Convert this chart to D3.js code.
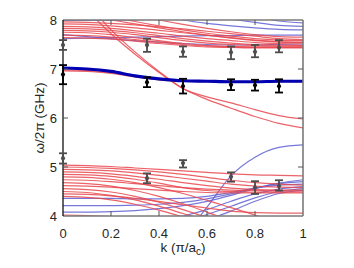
<!DOCTYPE html>
<html><head><meta charset="utf-8">
<script src="https://cdn.jsdelivr.net/npm/d3@7"></script>
<style>body{margin:0;background:#fff}svg{display:block}text{font-family:"Liberation Sans",Arial,sans-serif}</style>
</head><body><svg id="c" width="354" height="268"></svg>
<script>
const kGrid = [0,0.1,0.2,0.3,0.4,0.5,0.6,0.7,0.8,0.9,1];
const xTicks = [0,0.2,0.4,0.6,0.8,1];
const xTickLabels = ["0","0.2","0.4","0.6","0.8","1"];
const yTicks = [4,5,6,7,8];
const yTickLabels = ["4","5","6","7","8"];

// red bands, upper group (GHz at each kGrid point)
const redUpper = [
 [7.96,7.95,7.93,7.9,7.86,7.82,7.77,7.72,7.67,7.62,7.6],
 [7.92,7.91,7.88,7.84,7.79,7.74,7.69,7.64,7.59,7.56,7.55],
 [7.87,7.86,7.83,7.78,7.73,7.67,7.62,7.58,7.54,7.52,7.51],
 [7.83,7.82,7.79,7.74,7.68,7.62,7.57,7.53,7.5,7.49,7.48],
 [7.79,7.78,7.75,7.7,7.64,7.58,7.53,7.5,7.48,7.47,7.47],
 [7.75,7.74,7.7,7.64,7.58,7.52,7.48,7.46,7.45,7.45,7.45],
 [7.69,7.68,7.65,7.6,7.55,7.5,7.47,7.45,7.44,7.44,7.44],
 [7.64,7.63,7.61,7.57,7.52,7.48,7.45,7.44,7.43,7.43,7.43],
 [8.12,8.07,8.0,7.92,7.84,7.76,7.69,7.63,7.58,7.55,7.54],
 [8.25,8.16,8.07,7.97,7.88,7.8,7.73,7.67,7.62,7.59,7.58],
 [8.4,8.3,8.2,8.1,8.0,7.91,7.83,7.76,7.7,7.66,7.65]
];
// red bands crossing down from the top
const redSteep = [
 [8.7,8.2,7.72,7.3,6.93,6.6,6.43,6.31,6.17,6.05,5.98],
 [8.9,8.35,7.8,7.35,6.95,6.6,6.38,6.2,6.03,5.89,5.8]
];
// red bands following the thick blue band
const redMid = [
 [6.98,6.97,6.93,6.85,6.79,6.76,6.75,6.74,6.74,6.75,6.75],
 [6.96,6.95,6.91,6.84,6.78,6.75,6.74,6.73,6.73,6.74,6.74]
];
// red bands, lower group
const redLower = [
 [5.04,5.03,5.01,4.98,4.95,4.92,4.89,4.86,4.84,4.83,4.82],
 [5.0,4.99,4.97,4.94,4.9,4.85,4.79,4.73,4.68,4.65,4.63],
 [4.95,4.94,4.92,4.88,4.83,4.77,4.71,4.65,4.61,4.59,4.58],
 [4.9,4.89,4.86,4.81,4.75,4.68,4.62,4.57,4.54,4.53,4.53],
 [4.85,4.84,4.81,4.75,4.67,4.58,4.52,4.5,4.49,4.49,4.49],
 [4.8,4.79,4.75,4.68,4.58,4.46,4.32,4.17,4.02,3.88,3.8],
 [4.74,4.73,4.7,4.66,4.62,4.58,4.55,4.53,4.52,4.51,4.51],
 [4.68,4.66,4.61,4.52,4.4,4.25,4.08,3.9,3.75,3.65,3.6],
 [4.62,4.61,4.59,4.56,4.53,4.5,4.48,4.47,4.47,4.47,4.47],
 [4.56,4.54,4.49,4.4,4.28,4.13,3.97,3.8,3.7,3.6,3.55],
 [4.5,4.48,4.42,4.33,4.2,4.05,3.9,3.75,3.6,3.5,3.45],
 [4.45,4.44,4.41,4.36,4.3,4.23,4.16,4.1,4.07,4.06,4.06],
 [4.4,4.38,4.33,4.24,4.12,3.98,3.85,3.7,3.6,3.5,3.45],
 [4.02,4.01,3.99,3.96,3.9,3.82,3.72,3.62,3.52,3.45,3.4]
];
// thin blue bands, upper group
const blueUpper = [
 [7.99,7.99,7.99,8.0,8.03,8.08,8.14,8.2,8.25,8.28,8.3],
 [8.5,8.4,8.3,8.2,8.1,8.0,7.93,7.88,7.84,7.81,7.8],
 [8.7,8.6,8.5,8.4,8.3,8.2,8.1,8.02,7.95,7.89,7.87],
 [8.9,8.8,8.7,8.6,8.5,8.4,8.3,8.2,8.08,7.98,7.94],
 [7.62,7.63,7.64,7.65,7.66,7.67,7.68,7.68,7.69,7.69,7.69],
 [7.7,7.66,7.62,7.58,7.55,7.52,7.5,7.49,7.49,7.5,7.51]
];
// thin blue bands, lower group
const blueLower = [
 [4.36,4.36,4.36,4.35,4.35,4.36,4.4,4.48,4.57,4.63,4.65],
 [4.21,4.21,4.21,4.22,4.24,4.28,4.35,4.45,4.57,4.66,4.7],
 [4.08,4.08,4.09,4.11,4.15,4.21,4.3,4.42,4.56,4.67,4.74],
 [3.7,3.72,3.76,3.82,3.9,4.0,4.13,4.3,4.45,4.55,4.6],
 [3.6,3.62,3.66,3.72,3.8,3.9,4.03,4.2,4.37,4.5,4.56],
 [3.5,3.52,3.55,3.6,3.68,3.78,3.92,4.1,4.3,4.46,4.53],
 [2.0,2.1,2.3,2.6,3.0,3.55,4.18,4.82,5.2,5.4,5.45]
];
// thick blue band
const blueMain = [7.02,7.0,6.95,6.86,6.8,6.76,6.75,6.74,6.74,6.75,6.75];

// measured points
const measK = [0,0.35,0.5,0.7,0.8,0.9];
const midVal = [6.89,6.73,6.65,6.68,6.67,6.65];
const midLo  = [6.69,6.63,6.5,6.57,6.56,6.52];
const midHi  = [7.08,6.83,6.8,6.79,6.78,6.79];
const upVal = [7.49,7.49,7.35,7.34,7.35,7.44];
const upLo  = [7.39,7.35,7.25,7.2,7.24,7.34];
const upHi  = [7.59,7.62,7.46,7.46,7.49,7.59];
const lowVal = [5.18,4.77,5.08,4.8,4.58,4.61];
const lowLo  = [5.07,4.67,4.99,4.7,4.45,4.52];
const lowHi  = [5.28,4.87,5.14,4.89,4.71,4.73];

const svg = d3.select("#c");
const x = d3.scaleLinear().domain([0,1]).range([63,303]);
const y = d3.scaleLinear().domain([4,8]).range([216,20]);

svg.append("clipPath").attr("id","pc").append("rect")
  .attr("x",63).attr("y",20).attr("width",240).attr("height",196);
const plot = svg.append("g").attr("clip-path","url(#pc)");
const line = d3.line().x((d,i)=>x(kGrid[i])).y(d=>y(d)).curve(d3.curveMonotoneX);

const RED = "rgb(232,70,78)", BLUE = "rgb(95,95,210)";
function draw(arr, color, w, op){
  plot.append("g").selectAll("path").data(arr).join("path")
    .attr("d", line).attr("fill","none").attr("stroke",color)
    .attr("stroke-width",w).attr("stroke-opacity",op);
}
draw(blueUpper, BLUE, 1.2, 0.85);
draw(blueLower, BLUE, 1.2, 0.85);
draw(redUpper, RED, 1.2, 0.85);
draw(redLower, RED, 1.2, 0.85);
draw(redSteep, RED, 1.2, 0.85);
draw(redMid, RED, 1.2, 0.85);
draw([blueMain], "#0000b0", 3.2, 1);

// axes frame
const g = svg.append("g");
g.append("line").attr("x1",63).attr("x2",303).attr("y1",20).attr("y2",20).attr("stroke","#7a7a7a").attr("stroke-width",1.6);
g.append("line").attr("x1",63).attr("x2",303).attr("y1",216).attr("y2",216).attr("stroke","#7a7a7a").attr("stroke-width",1.6);
g.append("line").attr("x1",303).attr("x2",303).attr("y1",20).attr("y2",216).attr("stroke","#7a7a7a").attr("stroke-width",1.6);
g.append("line").attr("x1",63).attr("x2",63).attr("y1",20).attr("y2",216).attr("stroke","#111").attr("stroke-width",1.3);

const xt = xTicks.slice(1,-1);
g.selectAll(".xtb").data(xt).join("line").attr("x1",d=>x(d)).attr("x2",d=>x(d)).attr("y1",216).attr("y2",211).attr("stroke","#555");
g.selectAll(".xtt").data(xt).join("line").attr("class","xtt").attr("x1",d=>x(d)).attr("x2",d=>x(d)).attr("y1",20).attr("y2",25).attr("stroke","#555");
const yt = yTicks.slice(1,-1);
g.selectAll(".ytl").data(yt).join("line").attr("class","ytl").attr("x1",63).attr("x2",68).attr("y1",d=>y(d)).attr("y2",d=>y(d)).attr("stroke","#555");
g.selectAll(".ytr").data(yt).join("line").attr("class","ytr").attr("x1",303).attr("x2",298).attr("y1",d=>y(d)).attr("y2",d=>y(d)).attr("stroke","#555");

g.selectAll(".xl").data(xTicks).join("text").attr("class","xl")
  .attr("x",d=>x(d)).attr("y",238).attr("text-anchor","middle")
  .attr("font-size",13).attr("fill","#262626").text((d,i)=>xTickLabels[i]);
g.selectAll(".yl").data(yTicks).join("text").attr("class","yl")
  .attr("x",57).attr("y",d=>y(d)+4.7).attr("text-anchor","end")
  .attr("font-size",13).attr("fill","#262626").text((d,i)=>yTickLabels[i]);

const xl = g.append("text").attr("x",183).attr("y",252).attr("text-anchor","middle")
  .attr("font-size",13.5).attr("fill","#262626");
xl.append("tspan").text("k (π/a");
xl.append("tspan").attr("dy",3).attr("font-size",10).text("c");
xl.append("tspan").attr("dy",-3).text(")");

g.append("text").attr("transform","translate(44,118) rotate(-90)").attr("text-anchor","middle")
  .attr("font-size",13.5).attr("fill","#262626").text("ω/2π (GHz)");

// error bars
function errs(vals, lo, hi, color){
  const eg = svg.append("g");
  measK.forEach((k,i)=>{
    const cx = x(k);
    eg.append("line").attr("x1",cx).attr("x2",cx).attr("y1",y(lo[i])).attr("y2",y(hi[i])).attr("stroke",color).attr("stroke-width",1.8);
    [lo[i],hi[i]].forEach(v=>eg.append("line").attr("x1",cx-4).attr("x2",cx+4).attr("y1",y(v)).attr("y2",y(v)).attr("stroke",color).attr("stroke-width",1.8));
    eg.append("path").attr("transform",`translate(${cx},${y(vals[i])})`)
      .attr("d",d3.symbol(d3.symbolDiamond,18)()).attr("fill",color);
  });
}
errs(upVal, upLo, upHi, "#4d4d4d");
errs(lowVal, lowLo, lowHi, "#4d4d4d");
errs(midVal, midLo, midHi, "#000");
</script></body></html>
